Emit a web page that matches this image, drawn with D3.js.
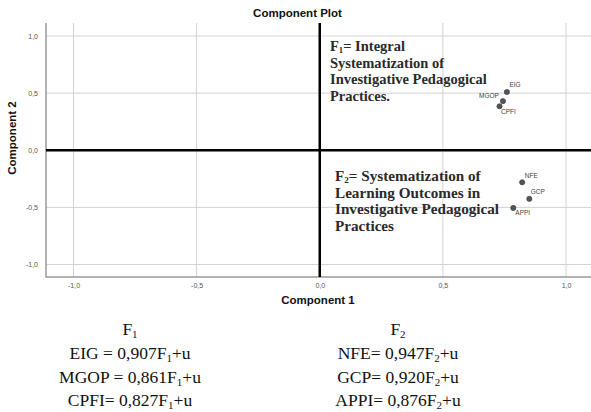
<!DOCTYPE html>
<html><head><meta charset="utf-8">
<script src="https://cdn.jsdelivr.net/npm/d3@7/dist/d3.min.js"></script>
<style>body{margin:0;background:#fff;}svg{display:block;}</style>
</head><body>
<svg id="c" width="591" height="412"></svg>
<script>
const labels = ["EIG","MGOP","CPFI","NFE","GCP","APPI"];
const comp1 = [0.76, 0.744, 0.73, 0.822, 0.851, 0.786];
const comp2 = [0.51, 0.43, 0.385, -0.28, -0.425, -0.505];
const xTicks = [-1, -0.5, 0, 0.5, 1];
const yTicks = [-1, -0.5, 0, 0.5, 1];
const f1Lines = ["Systematization of", "Investigative Pedagogical", "Practices."];
const f2Lines = ["Systematization of", "Learning Outcomes in", "Investigative Pedagogical", "Practices"];
const eqLeft = [["EIG = 0,907F","1","+u"],["MGOP = 0,861F","1","+u"],["CPFI= 0,827F","1","+u"]];
const eqRight = [["NFE= 0,947F","2","+u"],["GCP= 0,920F","2","+u"],["APPI= 0,876F","2","+u"]];

const svg = d3.select("#c");
const L = 46, T = 23, B = 277, R = 591;
const x = d3.scaleLinear().domain([-1, 1]).range([73.5, 566]);
const y = d3.scaleLinear().domain([-1, 1]).range([264.5, 36]);
const fmt = v => d3.format(".1f")(v).replace(".", ",").replace("−","-");

// grid
svg.append("g").selectAll("line").data(xTicks.filter(d=>d!==0)).join("line")
  .attr("x1", d=>x(d)).attr("x2", d=>x(d)).attr("y1", T).attr("y2", B)
  .attr("stroke", "#d2d2d2").attr("stroke-width", 1);
svg.append("g").selectAll("line").data(yTicks.filter(d=>d!==0)).join("line")
  .attr("y1", d=>y(d)).attr("y2", d=>y(d)).attr("x1", L).attr("x2", R)
  .attr("stroke", "#d2d2d2").attr("stroke-width", 1);

// axes
const xAxis = d3.axisBottom(x).tickValues(xTicks).tickFormat(fmt).tickSize(0).tickPadding(6);
const gx = svg.append("g").attr("transform", `translate(0,${B})`).call(xAxis);
gx.select(".domain").remove();
gx.selectAll("text").attr("font-family","Arial, 'Liberation Sans', sans-serif").attr("font-size","7px").attr("fill","#555");
const yAxis = d3.axisLeft(y).tickValues(yTicks).tickFormat(fmt).tickSize(0).tickPadding(8);
const gy = svg.append("g").attr("transform", `translate(${L},0)`).call(yAxis);
gy.select(".domain").remove();
gy.selectAll("text").attr("font-family","Arial, 'Liberation Sans', sans-serif").attr("font-size","7px").attr("fill","#555");

svg.append("line").attr("x1", L).attr("x2", L).attr("y1", T).attr("y2", B+0.5).attr("stroke","#999").attr("stroke-width",1.5);
svg.append("line").attr("x1", L).attr("x2", R).attr("y1", B).attr("y2", B).attr("stroke","#999").attr("stroke-width",1.5);

// zero lines
svg.append("line").attr("x1", x(0)).attr("x2", x(0)).attr("y1", T).attr("y2", B).attr("stroke","#000").attr("stroke-width",2.5);
svg.append("line").attr("x1", L).attr("x2", R).attr("y1", y(0)).attr("y2", y(0)).attr("stroke","#000").attr("stroke-width",2.5);

// titles
svg.append("text").attr("x", 297.5).attr("y", 17).attr("text-anchor","middle")
  .attr("font-family","Arial, 'Liberation Sans', sans-serif").attr("font-weight","bold").attr("font-size","11.5px").attr("fill","#111").text("Component Plot");
svg.append("text").attr("x", 318).attr("y", 304).attr("text-anchor","middle")
  .attr("font-family","Arial, 'Liberation Sans', sans-serif").attr("font-weight","bold").attr("font-size","11.5px").attr("fill","#111").text("Component 1");
svg.append("text").attr("transform","translate(16,138) rotate(-90)").attr("text-anchor","middle")
  .attr("font-family","Arial, 'Liberation Sans', sans-serif").attr("font-weight","bold").attr("font-size","11.5px").attr("fill","#111").text("Component 2");

// points
const pts = labels.map((l,i)=>({l, c1: comp1[i], c2: comp2[i]}));
const off = {EIG:[2.5,-5,"start"], MGOP:[-4,-3.5,"end"], CPFI:[1.5,8,"start"], NFE:[2.7,-4.5,"start"], GCP:[1.4,-5,"start"], APPI:[2,7.5,"start"]};
svg.append("g").selectAll("circle").data(pts).join("circle")
  .attr("cx", d=>x(d.c1)).attr("cy", d=>y(d.c2)).attr("r", 2.6)
  .attr("fill","#555").attr("stroke","#333").attr("stroke-width",0.6);
svg.append("g").selectAll("text").data(pts).join("text")
  .attr("x", d=>x(d.c1)+off[d.l][0]).attr("y", d=>y(d.c2)+off[d.l][1])
  .attr("text-anchor", d=>off[d.l][2])
  .attr("font-family","Arial, 'Liberation Sans', sans-serif").attr("font-size","6.5px").attr("fill","#444").text(d=>d.l);

// annotations
function block(x0, y0, sub, first, lines, fs, ls) {
  const g = svg.append("g").attr("font-family","'Liberation Serif', 'Times New Roman', serif")
    .attr("font-weight","bold").attr("font-size", fs+"px").attr("fill","#2a2a2a");
  const t = g.append("text").attr("x", x0).attr("y", y0);
  t.append("tspan").text("F");
  t.append("tspan").attr("font-size", (fs*0.6)+"px").attr("dy", 2).text(sub);
  t.append("tspan").attr("dy", -2).text(first);
  lines.forEach((s,i)=> g.append("text").attr("x", x0).attr("y", y0 + ls*(i+1)).text(s));
}
block(330, 51, "1", "= Integral", f1Lines, 14.5, 16.5);
block(335, 181, "2", "= Systematization of".replace("Systematization of","Systematization of"), f2Lines.slice(1), 15.2, 16.5);

// equations
function eqCol(cx, head, rows) {
  const g = svg.append("g").attr("font-family","'Liberation Serif', 'Times New Roman', serif").attr("font-size","17.5px").attr("fill","#111").attr("text-anchor","middle");
  const h = g.append("text").attr("x", cx).attr("y", 335);
  h.append("tspan").text("F");
  h.append("tspan").attr("font-size","11px").attr("dy",3).text(head);
  rows.forEach((r,i)=>{
    const t = g.append("text").attr("x", cx).attr("y", 359 + 23.7*i);
    t.append("tspan").text(r[0]);
    t.append("tspan").attr("font-size","11px").attr("dy",3).text(r[1]);
    t.append("tspan").attr("dy",-3).text(r[2]);
  });
}
eqCol(130, "1", eqLeft);
eqCol(398, "2", eqRight);
</script>
</body></html>
